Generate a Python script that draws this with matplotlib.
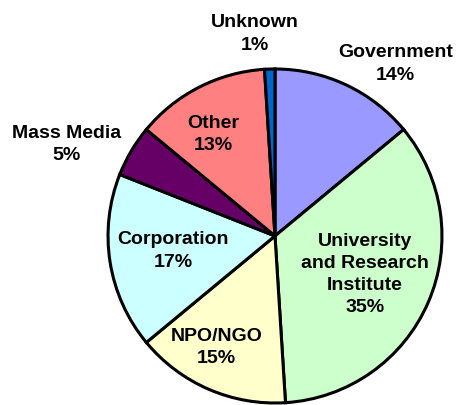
import matplotlib.pyplot as plt

# Sector shares (clockwise from 12 o'clock)
categories = ['Government', 'University\nand Research\nInstitute', 'NPO/NGO',
              'Corporation', 'Mass Media', 'Other', 'Unknown']
shares = [14, 35, 15, 17, 5, 13, 1]

colors = ['#9999ff', '#ccffcc', '#ffffcc', '#ccffff', '#660066', '#ff8080', '#0066cc']
# label block centres, in pie-radius units
label_pos = [(0.72, 1.03), (0.54, -0.23), (-0.35, -0.67), (-0.61, -0.09),
             (-1.25, 0.55), (-0.37, 0.61), (-0.12, 1.21)]

fig = plt.figure(figsize=(4.58, 4.05), dpi=100)
ax = fig.add_axes([0, 0, 1, 1])

ax.pie(shares, colors=colors, startangle=90, counterclock=False, radius=1,
       wedgeprops=dict(edgecolor='black', linewidth=2.2))

for name, val, (x, y) in zip(categories, shares, label_pos):
    ax.text(x, y, f'{name}\n{val}%', ha='center', va='center',
            fontsize=14, fontweight='bold', family='Liberation Sans',
            linespacing=1.4)

ax.set_aspect('auto')
ax.set_xlim(-1.647, 1.096)
ax.set_ylim(-1.012, 1.413)
ax.axis('off')

fig.savefig('out.png', dpi=100)
